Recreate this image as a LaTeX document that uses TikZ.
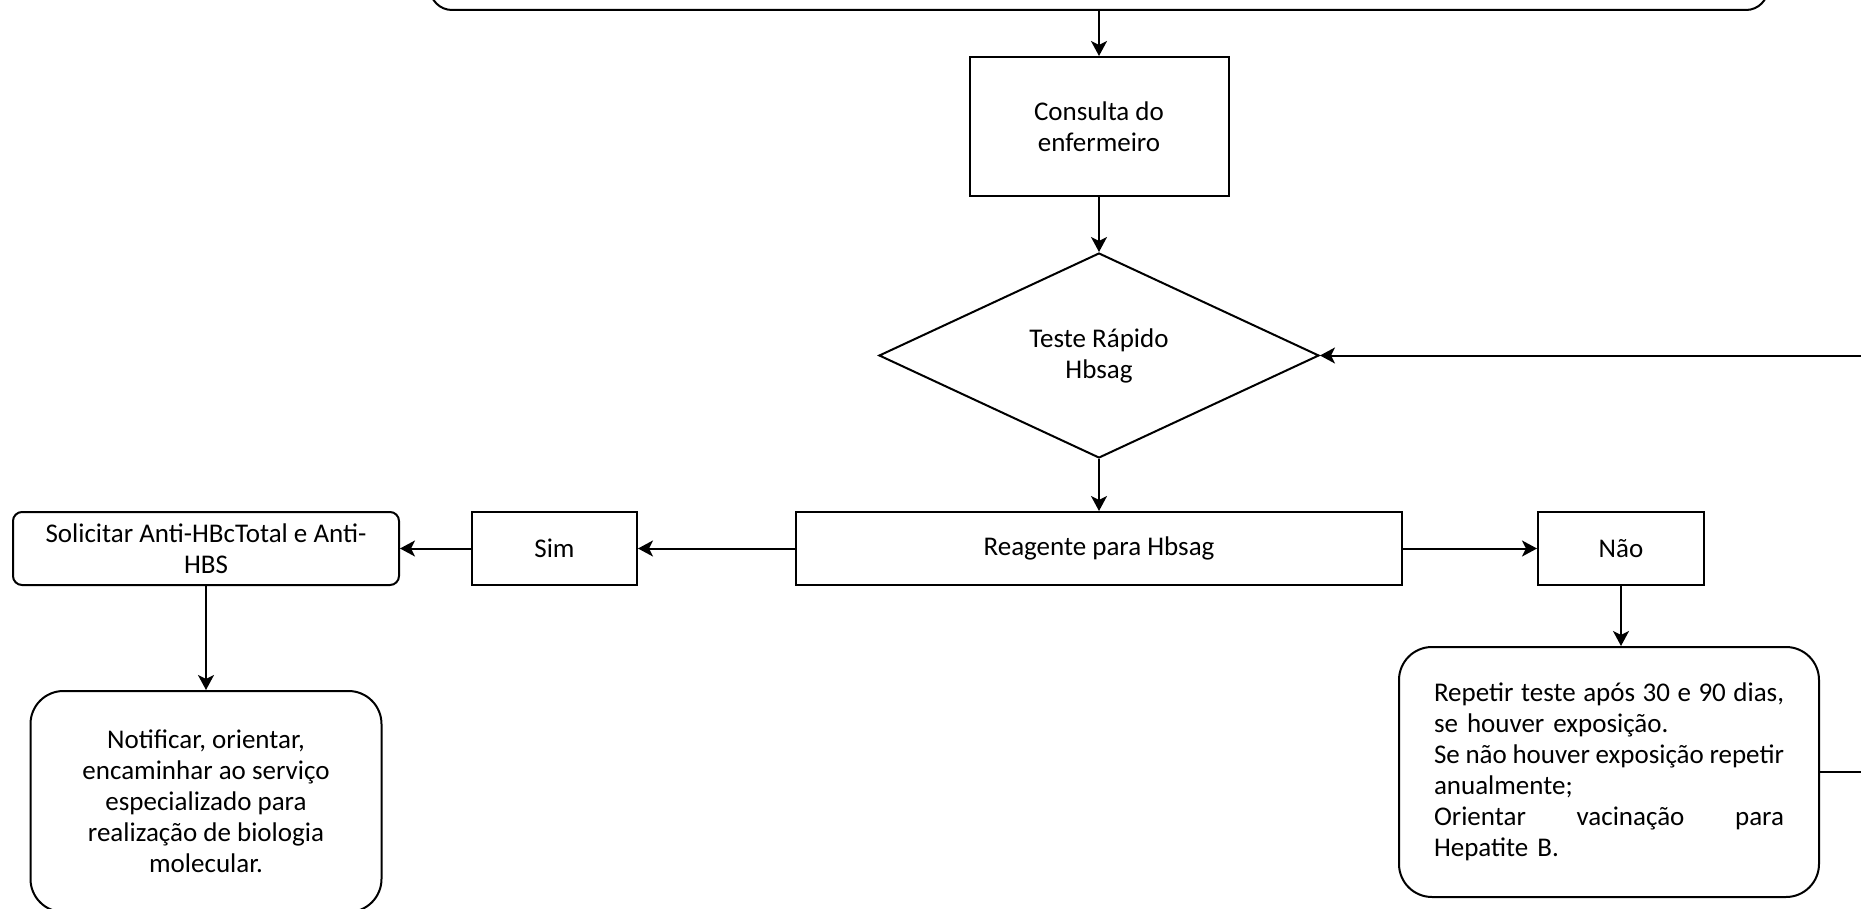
\documentclass[tikz,border=0pt]{standalone}
\usepackage{fontspec}
\setmainfont{Carlito}
\usetikzlibrary{shapes.geometric,arrows.meta}
\newcommand\jline[1]{\leavevmode\hbox to 350pt{\spaceskip=0.226em plus 1fil minus 0.08em\relax #1}}
\begin{document}
\begin{tikzpicture}[x=1pt,y=-1pt,
  every node/.style={font=\fontsize{27}{31}\selectfont, inner sep=0pt},
  sq/.style={rectangle, draw, line width=2pt},
  dia/.style={diamond, draw, line width=2pt},
  arr/.style={line width=2pt, -{Stealth[length=15pt,width=16pt,inset=4pt]}}
]
\useasboundingbox (0,0) rectangle (1861,909);
\clip (0,0) rectangle (1861,909);

\node[sq, rounded corners=22pt, minimum width=1338pt, minimum height=200pt, anchor=south] (top) at (1099,11) {};
\node[sq, minimum width=259pt, minimum height=139pt, align=center] (cons) at (1099,126.5) {Consulta do\\enfermeiro};
\node[dia, minimum width=440pt, minimum height=205pt, align=center] (teste) at (1099,355.5) {Teste Rápido\\Hbsag};
\node[sq, minimum width=606pt, minimum height=73pt] (reag) at (1099,548.5) {Reagente para Hbsag};
\node[sq, minimum width=165pt, minimum height=73pt] (sim) at (554.5,548.5) {Sim};
\node[sq, rounded corners=9pt, minimum width=386pt, minimum height=73pt, align=center] (sol) at (206,548.5) {Solicitar Anti-HBcTotal e Anti-\\HBS};
\node[sq, minimum width=166pt, minimum height=73pt] (nao) at (1621,548.5) {Não};
\node[sq, rounded corners=33pt, minimum width=351pt, minimum height=221pt, align=center] (notif) at (206,801.5) {Notificar, orientar,\\encaminhar ao serviço\\especializado para\\realização de biologia\\molecular.};
\node[sq, rounded corners=33pt, minimum width=420pt, minimum height=250pt, text width=350pt, align=left] (rep) at (1609,772) {\jline{Repetir teste após 30 e 90 dias,}\\
se houver exposição.\\
\jline{Se não houver exposição repetir}\\
anualmente;\\
\jline{Orientar vacinação para}\\
Hepatite B.};

\draw[arr] (top.south) -- (cons.north);
\draw[arr] (cons.south) -- (teste.north);
\draw[arr] (teste.south) -- (reag.north);
\draw[arr] (reag.west) -- (sim.east);
\draw[arr] (sim.west) -- (sol.east);
\draw[arr] (sol.south) -- (notif.north);
\draw[arr] (reag.east) -- (nao.west);
\draw[arr] (nao.south) -- (nao.south |- rep.north);
\draw[arr] (rep.east) -- ++(80,0) |- (teste.east);
\end{tikzpicture}
\end{document}
